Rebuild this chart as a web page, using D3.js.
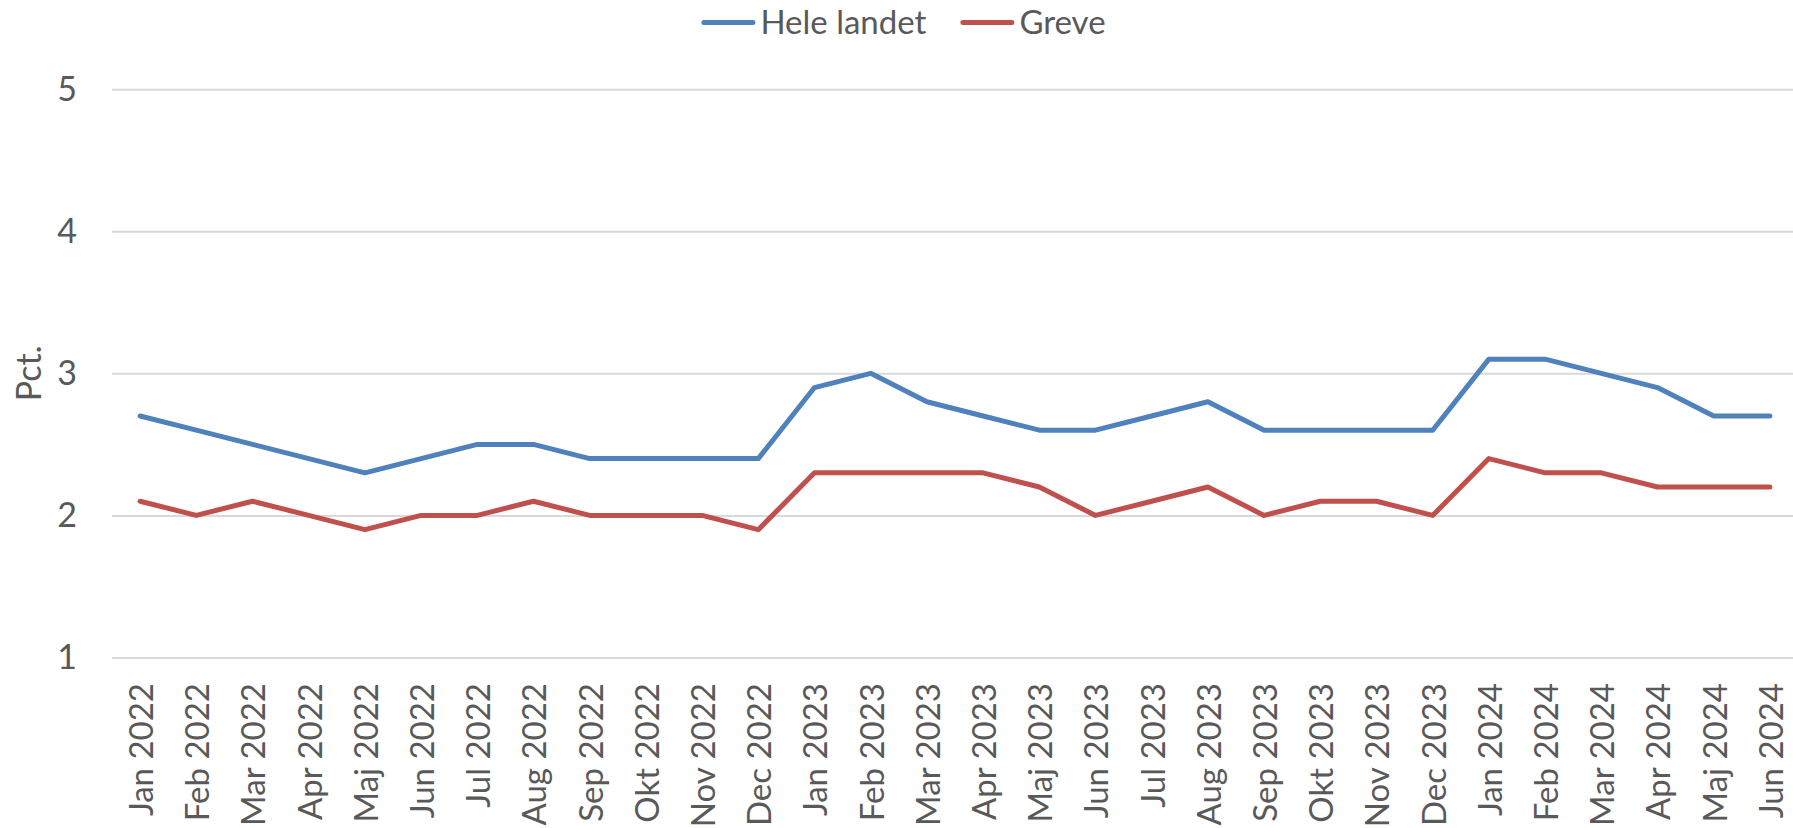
<!DOCTYPE html>
<html>
<head>
<meta charset="utf-8">
<script src="https://cdn.jsdelivr.net/npm/d3@7"></script>
<style>
  html, body { margin: 0; padding: 0; background: #ffffff; }
  svg { display: block; }
  text { font-family: Lato, "Open Sans", sans-serif; fill: #595959; }
</style>
</head>
<body>
<svg id="chart" width="1793" height="828"></svg>
<script>
const categories = [
  "Jan 2022","Feb 2022","Mar 2022","Apr 2022","Maj 2022","Jun 2022","Jul 2022","Aug 2022","Sep 2022","Okt 2022","Nov 2022","Dec 2022",
  "Jan 2023","Feb 2023","Mar 2023","Apr 2023","Maj 2023","Jun 2023","Jul 2023","Aug 2023","Sep 2023","Okt 2023","Nov 2023","Dec 2023",
  "Jan 2024","Feb 2024","Mar 2024","Apr 2024","Maj 2024","Jun 2024"
];
const heleLandet = [2.7,2.6,2.5,2.4,2.3,2.4,2.5,2.5,2.4,2.4,2.4,2.4, 2.9,3.0,2.8,2.7,2.6,2.6,2.7,2.8,2.6,2.6,2.6,2.6, 3.1,3.1,3.0,2.9,2.7,2.7];
const greve      = [2.1,2.0,2.1,2.0,1.9,2.0,2.0,2.1,2.0,2.0,2.0,1.9, 2.3,2.3,2.3,2.3,2.2,2.0,2.1,2.2,2.0,2.1,2.1,2.0, 2.4,2.3,2.3,2.2,2.2,2.2];
const seriesNames = ["Hele landet", "Greve"];
const seriesColors = ["#4F81BD", "#C0504D"];
const yTicks = [1, 2, 3, 4, 5];
const yTitle = "Pct.";

const svg = d3.select("#chart");
const plot = { left: 112, right: 1798, top: 89.2, bottom: 657.5 };

const x = d3.scaleBand().domain(categories).range([plot.left, plot.right]).padding(0);
const y = d3.scaleLinear().domain([1, 5]).range([plot.bottom, plot.top]);

// gridlines
const yAxis = d3.axisLeft(y).tickValues(yTicks).tickSize(-(plot.right - plot.left)).tickPadding(35).tickFormat(d3.format("d"));
const gy = svg.append("g").attr("transform", `translate(${plot.left},0)`).call(yAxis);
gy.select(".domain").remove();
gy.selectAll(".tick line").attr("stroke", "#D9D9D9").attr("stroke-width", 2);
gy.selectAll(".tick text").attr("font-size", 34).attr("fill", "#595959").attr("font-family", "Lato, sans-serif");

// x labels
const xAxis = d3.axisBottom(x).tickSize(0).tickPadding(0);
const gx = svg.append("g").attr("transform", `translate(0,${plot.bottom})`).call(xAxis);
gx.select(".domain").remove();
gx.selectAll(".tick text")
  .attr("font-size", 33)
  .attr("fill", "#595959")
  .attr("font-family", "Lato, sans-serif")
  .attr("text-anchor", "end")
  .attr("transform", "translate(1,25.5) rotate(-90)")
  .attr("x", 0).attr("y", 0).attr("dy", "0.36em");

// y title
svg.append("text")
  .attr("transform", `translate(28.5,${(plot.top + plot.bottom) / 2}) rotate(-90)`)
  .attr("text-anchor", "middle").attr("dy", "0.36em")
  .attr("font-size", 34).text(yTitle);

// lines
const allSeries = [heleLandet, greve];
const line = d3.line().x((d, i) => x(categories[i]) + x.bandwidth() / 2).y(d => y(d));
svg.append("g").selectAll("path").data(allSeries).join("path")
  .attr("d", d => line(d))
  .attr("fill", "none")
  .attr("stroke", (d, i) => seriesColors[i])
  .attr("stroke-width", 5)
  .attr("stroke-linejoin", "round")
  .attr("stroke-linecap", "round");

// legend
const legend = svg.append("g");
const legendY = 22.5;
const symLen = 54, symGap = 5, itemGap = 34;
let cursor = 0;
const items = [];
seriesNames.forEach((name, i) => {
  const g = legend.append("g");
  g.append("line").attr("x1", cursor + 2.5).attr("x2", cursor + symLen - 2.5)
    .attr("y1", legendY).attr("y2", legendY)
    .attr("stroke", seriesColors[i]).attr("stroke-width", 5).attr("stroke-linecap", "round");
  const t = g.append("text").attr("x", cursor + symLen + symGap).attr("y", legendY)
    .attr("dy", "0.36em").attr("font-size", 33).text(name);
  cursor += symLen + symGap + t.node().getComputedTextLength() + itemGap;
});
const legendWidth = cursor - itemGap;
legend.attr("transform", `translate(${903.5 - legendWidth / 2},0)`);
</script>
</body>
</html>
